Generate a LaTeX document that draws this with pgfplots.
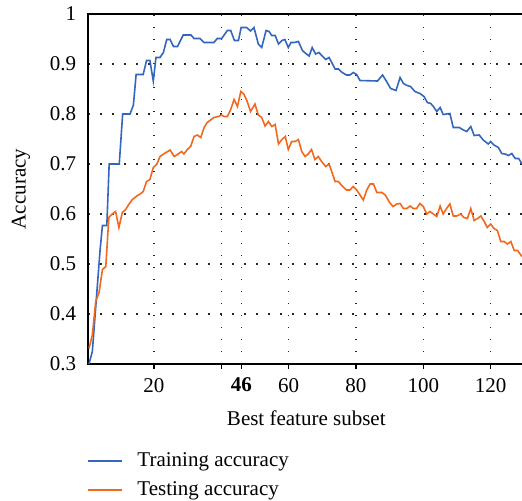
\documentclass[border=0pt]{standalone}
\usepackage{fontspec}
\setmainfont{Liberation Serif}
\usepackage{pgfplots}
\pgfplotsset{compat=1.18}
\definecolor{trainblue}{RGB}{52,102,190}
\definecolor{testorange}{RGB}{242,104,30}
\begin{document}
\begin{tikzpicture}
\begin{axis}[
  scale only axis,
  width=218pt, height=175pt,
  xmin=0.5, xmax=130, ymin=0.3, ymax=1,
  xtick={20,40,46,60,80,100,120},
  xticklabels={20,,\textbf{46},60,80,100,120},
  ytick={0.3,0.4,0.5,0.6,0.7,0.8,0.9,1},
  yticklabels={0.3,0.4,0.5,0.6,0.7,0.8,0.9,1},
  xtick pos=bottom, ytick pos=left,
  tick align=outside,
  major tick length=2.5pt,
  ytick style={draw=none},
  xtick style={black, line width=0.6pt},
  axis line style={black, line width=0.8pt},
  grid=major,
  grid style={black!85, line width=0.7pt, dash pattern=on 0.7pt off 5.3pt},
  tick label style={font=\fontsize{10.5}{12}\selectfont},
  label style={font=\fontsize{10.5}{12}\selectfont},
  /pgf/number format/assume math mode=true,
  xticklabel shift=1pt,
  xlabel shift=2.5pt,
  ylabel shift=3pt,
  xlabel={Best feature subset},
  ylabel={Accuracy},
  legend style={draw=none, fill=none, at={(0,0)}, anchor=north west, yshift=-40pt, xshift=-4pt,
    font=\fontsize{10.5}{12}\selectfont, row sep=2pt, column sep=5.5pt},
  legend cell align=left,
]
\addplot[trainblue, line width=0.8pt] coordinates {
(0.7,0.300) (1.7,0.325) (4.0,0.528) (4.7,0.577) (6.0,0.577) (6.7,0.700) (9.7,0.700)
(10.7,0.800) (12.9,0.800) (13.9,0.818) (14.7,0.879) (16.8,0.879) (17.8,0.907) (18.8,0.907)
(19.8,0.866) (20.6,0.913) (21.8,0.913) (22.8,0.923) (23.8,0.949) (24.8,0.949) (25.8,0.935)
(27.0,0.935) (28.7,0.958) (31.0,0.958) (31.9,0.951) (33.7,0.951) (34.9,0.943) (37.8,0.943)
(38.8,0.951) (40.1,0.951) (41.8,0.967) (42.8,0.967) (43.9,0.947) (45.1,0.947) (45.9,0.973)
(47.5,0.973) (48.7,0.966) (49.7,0.973) (51.0,0.940) (52.0,0.933) (53.3,0.967) (54.2,0.965)
(55.0,0.957) (56.0,0.957) (57.0,0.940) (58.0,0.947) (58.9,0.949) (59.9,0.933) (60.7,0.943)
(61.7,0.943) (62.9,0.945) (64.1,0.927) (65.1,0.921) (66.1,0.916) (67.0,0.933) (68.0,0.920)
(69.0,0.923) (70.0,0.916) (71.0,0.909) (72.0,0.913) (72.8,0.903) (73.8,0.890) (74.8,0.890)
(75.9,0.883) (77.2,0.878) (78.2,0.878) (79.2,0.883) (80.2,0.879) (81.2,0.867) (86.4,0.866)
(87.9,0.878) (89.1,0.865) (90.3,0.851) (91.9,0.847) (93.1,0.873) (94.1,0.861) (95.2,0.857)
(96.2,0.855) (97.5,0.845) (99.0,0.841) (100.2,0.835) (101.2,0.823) (102.2,0.821) (103.0,0.815)
(104.0,0.805) (105.0,0.813) (105.9,0.799) (107.9,0.801) (108.9,0.773) (110.7,0.773) (111.9,0.768)
(112.9,0.765) (114.1,0.775) (115.1,0.757) (116.6,0.758) (117.8,0.748) (119.3,0.740) (120.0,0.745)
(121.0,0.738) (122.3,0.733) (123.3,0.721) (124.3,0.720) (125.3,0.717) (126.3,0.721) (127.3,0.711)
(128.3,0.711) (129.3,0.701)
};
\addlegendentry{Training accuracy}
\addplot[testorange, line width=0.8pt] coordinates {
(0.7,0.331) (1.7,0.358) (2.7,0.425) (3.7,0.443) (4.7,0.489) (5.7,0.495) (6.6,0.593) (7.6,0.600)
(8.6,0.605) (9.6,0.573) (10.6,0.603) (11.6,0.609) (12.6,0.620) (13.6,0.629) (14.9,0.636)
(15.9,0.640) (16.8,0.645) (17.8,0.665) (18.8,0.669) (19.8,0.693) (20.8,0.699) (21.8,0.715)
(23.1,0.721) (24.8,0.728) (26.0,0.715) (27.2,0.720) (28.2,0.725) (28.9,0.720) (29.9,0.729)
(30.9,0.735) (31.9,0.755) (32.9,0.758) (33.9,0.753) (34.9,0.773) (35.8,0.783) (36.8,0.788)
(37.8,0.793) (39.1,0.795) (40.1,0.798) (40.8,0.795) (41.8,0.795) (42.8,0.809) (43.8,0.829)
(44.8,0.815) (45.8,0.845) (46.7,0.840) (47.7,0.825) (48.7,0.805) (50.0,0.820) (51.0,0.798)
(52.0,0.793) (53.0,0.776) (54.0,0.785) (55.0,0.775) (56.0,0.779) (57.0,0.740) (58.0,0.749)
(59.0,0.755) (59.9,0.729) (60.9,0.745) (61.9,0.745) (62.9,0.749) (63.9,0.725) (64.9,0.715)
(65.8,0.720) (66.8,0.729) (67.8,0.709) (68.8,0.715) (69.8,0.705) (71.0,0.695) (72.0,0.700)
(72.8,0.685) (73.8,0.665) (74.8,0.665) (75.9,0.656) (77.2,0.648) (78.2,0.648) (79.2,0.655)
(80.2,0.648) (81.2,0.638) (82.2,0.628) (83.2,0.648) (84.2,0.660) (85.2,0.660) (86.2,0.643)
(87.7,0.643) (88.7,0.638) (90.0,0.623) (91.0,0.615) (92.1,0.620) (93.1,0.621) (94.1,0.611)
(95.1,0.611) (96.1,0.616) (97.0,0.611) (98.0,0.611) (99.0,0.621) (100.0,0.615) (101.0,0.600)
(102.0,0.605) (103.0,0.600) (104.0,0.595) (105.0,0.616) (105.9,0.600) (106.9,0.611) (107.9,0.620)
(108.9,0.596) (109.9,0.596) (111.1,0.600) (112.1,0.593) (113.1,0.591) (114.1,0.611) (115.1,0.587)
(116.1,0.591) (117.1,0.596) (118.1,0.585) (119.0,0.573) (120.0,0.580) (121.0,0.571) (122.0,0.567)
(123.0,0.545) (124.0,0.545) (125.0,0.540) (126.0,0.545) (127.0,0.527) (128.0,0.527) (129.3,0.515)
};
\addlegendentry{Testing accuracy}
\end{axis}
\pgfresetboundingbox
\path (current axis.south west) ++(-44.15pt,-68pt) rectangle ++(261pt,250pt);
\end{tikzpicture}
\end{document}
